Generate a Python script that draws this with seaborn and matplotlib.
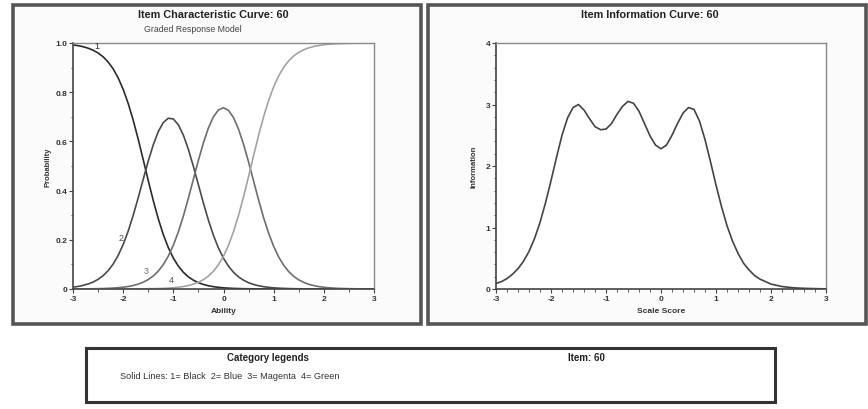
import matplotlib
matplotlib.use("Agg")
import matplotlib.pyplot as plt
import seaborn as sns
import pandas as pd
from matplotlib.patches import Rectangle
from matplotlib.ticker import MultipleLocator

# ---- data ----
theta = [-3.0, -2.9, -2.8, -2.7, -2.6, -2.5, -2.4, -2.3, -2.2, -2.1,
         -2.0, -1.9, -1.8, -1.7, -1.6, -1.5, -1.4, -1.3, -1.2, -1.1,
         -1.0, -0.9, -0.8, -0.7, -0.6, -0.5, -0.4, -0.3, -0.2, -0.1,
         0.0, 0.1, 0.2, 0.3, 0.4, 0.5, 0.6, 0.7, 0.8, 0.9,
         1.0, 1.1, 1.2, 1.3, 1.4, 1.5, 1.6, 1.7, 1.8, 1.9,
         2.0, 2.1, 2.2, 2.3, 2.4, 2.5, 2.6, 2.7, 2.8, 2.9, 3.0]
cat1 = [0.9923, 0.9893, 0.9850, 0.9790, 0.9708, 0.9594, 0.9439, 0.9229, 0.8950, 0.8584,
        0.8117, 0.7544, 0.6861, 0.6087, 0.5255, 0.4408, 0.3594, 0.2854, 0.2213, 0.1683,
        0.1259, 0.0930, 0.0680, 0.0493, 0.0357, 0.0256, 0.0184, 0.0132, 0.0094, 0.0067,
        0.0048, 0.0034, 0.0024, 0.0017, 0.0012, 0.0009, 0.0006, 0.0005, 0.0003, 0.0002,
        0.0002, 0.0001, 0.0001, 0.0001, 0.0001, 0.0, 0.0, 0.0, 0.0, 0.0,
        0.0, 0.0, 0.0, 0.0, 0.0, 0.0, 0.0, 0.0, 0.0, 0.0, 0.0]
cat2 = [0.0075, 0.0104, 0.0145, 0.0203, 0.0282, 0.0392, 0.0542, 0.0744, 0.1012, 0.1363,
        0.1809, 0.2352, 0.2994, 0.3710, 0.4462, 0.5199, 0.5862, 0.6399, 0.6768, 0.6942,
        0.6911, 0.6676, 0.6254, 0.5676, 0.4983, 0.4236, 0.3489, 0.2791, 0.2178, 0.1664,
        0.1249, 0.0924, 0.0678, 0.0493, 0.0356, 0.0256, 0.0184, 0.0132, 0.0094, 0.0067,
        0.0047, 0.0034, 0.0024, 0.0017, 0.0012, 0.0009, 0.0006, 0.0005, 0.0003, 0.0002,
        0.0002, 0.0001, 0.0001, 0.0001, 0.0, 0.0, 0.0, 0.0, 0.0, 0.0, 0.0]
cat3 = [0.0003, 0.0003, 0.0005, 0.0007, 0.0010, 0.0014, 0.0019, 0.0026, 0.0037, 0.0052,
        0.0072, 0.0101, 0.0142, 0.0198, 0.0276, 0.0384, 0.0531, 0.0728, 0.0993, 0.1339,
        0.1779, 0.2322, 0.2966, 0.3690, 0.4464, 0.5234, 0.5947, 0.6551, 0.7004, 0.7280,
        0.7368, 0.7262, 0.6965, 0.6496, 0.5880, 0.5159, 0.4386, 0.3616, 0.2897, 0.2264,
        0.1731, 0.1300, 0.0964, 0.0706, 0.0514, 0.0372, 0.0268, 0.0191, 0.0138, 0.0098,
        0.0070, 0.0050, 0.0035, 0.0025, 0.0018, 0.0013, 0.0009, 0.0007, 0.0005, 0.0003, 0.0002]
cat4 = [0.0, 0.0, 0.0, 0.0, 0.0, 0.0, 0.0, 0.0001, 0.0001, 0.0001,
        0.0002, 0.0002, 0.0003, 0.0005, 0.0007, 0.0009, 0.0013, 0.0019, 0.0026, 0.0037,
        0.0051, 0.0072, 0.0100, 0.0141, 0.0196, 0.0274, 0.0380, 0.0526, 0.0724, 0.0989,
        0.1335, 0.1780, 0.2333, 0.2994, 0.3752, 0.4576, 0.5424, 0.6248, 0.7006, 0.7667,
        0.8220, 0.8665, 0.9011, 0.9276, 0.9473, 0.9619, 0.9726, 0.9804, 0.9859, 0.9900,
        0.9928, 0.9949, 0.9964, 0.9974, 0.9981, 0.9987, 0.9991, 0.9993, 0.9995, 0.9997, 0.9998]
categories = ["1", "2", "3", "4"]

info = [0.09, 0.12, 0.17, 0.24, 0.33, 0.45, 0.61, 0.82, 1.08, 1.40,
        1.76, 2.14, 2.50, 2.78, 2.95, 3.00, 2.91, 2.77, 2.64, 2.59,
        2.60, 2.69, 2.84, 2.97, 3.05, 3.02, 2.89, 2.69, 2.49, 2.34,
        2.28, 2.34, 2.50, 2.69, 2.86, 2.95, 2.92, 2.73, 2.43, 2.07,
        1.69, 1.34, 1.03, 0.78, 0.58, 0.42, 0.31, 0.22, 0.16, 0.12,
        0.08, 0.06, 0.04, 0.03, 0.02, 0.015, 0.011, 0.008, 0.006, 0.004, 0.003]

icc = pd.DataFrame({
    "theta": theta * 4,
    "prob": cat1 + cat2 + cat3 + cat4,
    "category": sum([[c] * len(theta) for c in categories], []),
})
iic = pd.DataFrame({"theta": theta, "info": info})

sns.set_style("white")
plt.rcParams["font.family"] = ["Liberation Sans", "DejaVu Sans"]
plt.rcParams["axes.unicode_minus"] = False

W, H = 868, 410
fig = plt.figure(figsize=(W / 100, H / 100), dpi=100)
fig.patch.set_facecolor("white")


def px_box(x0, y0, x1, y1):
    return [x0 / W, 1 - y1 / H, (x1 - x0) / W, (y1 - y0) / H]


# panel frames (drawn beneath the axes)
for x0, x1 in [(13, 421), (428, 866)]:
    b = px_box(x0, 6, x1, 325)
    fig.patches.append(Rectangle((b[0], b[1]), b[2], b[3], transform=fig.transFigure,
                                 facecolor="#fbfbfb", edgecolor="#555555", lw=2.6, zorder=-5))
b = px_box(86, 349, 775, 403)
fig.patches.append(Rectangle((b[0], b[1]), b[2], b[3], transform=fig.transFigure,
                             facecolor="white", edgecolor="#333333", lw=2.2, zorder=-5))

ax1 = fig.add_axes(px_box(73, 44, 374, 290))
ax2 = fig.add_axes(px_box(496, 44, 826, 290))
ax1.set_zorder(2)
ax2.set_zorder(2)

sns.lineplot(data=icc, x="theta", y="prob", hue="category",
             palette=["#2b2b2b", "#4a4a4a", "#6e6e6e", "#a3a3a3"],
             legend=False, lw=1.2, ax=ax1)
sns.lineplot(data=iic, x="theta", y="info", color="#444444", lw=1.2, ax=ax2)

for ax in (ax1, ax2):
    ax.set_facecolor("white")
    ax.set_xlim(-3, 3)
    ax.set_xticks([-3, -2, -1, 0, 1, 2, 3])
    for s in ("left", "bottom"):
        ax.spines[s].set_color("#444444")
        ax.spines[s].set_linewidth(1.2)
    for s in ("top", "right"):
        ax.spines[s].set_color("#8a8a8a")
        ax.spines[s].set_linewidth(1.0)
    ax.tick_params(which="major", direction="out", length=3, width=0.8,
                   color="#444444", labelsize=6, pad=1)
    ax.tick_params(which="minor", direction="out", length=1.8, width=0.6, color="#444444")
    ax.tick_params(top=False, right=False, left=True, bottom=True)
    ax.tick_params(which="minor", top=False, right=False, left=True, bottom=True)
    for lab in ax.get_xticklabels() + ax.get_yticklabels():
        lab.set_fontweight("bold")
        lab.set_color("#333333")

ax1.set_ylim(0, 1)
ax1.set_yticks([0, 0.2, 0.4, 0.6, 0.8, 1.0])
ax1.set_yticklabels(["0", "0.2", "0.4", "0.6", "0.8", "1.0"], fontweight="bold", color="#333333")
ax1.xaxis.set_minor_locator(MultipleLocator(0.5))
ax1.yaxis.set_minor_locator(MultipleLocator(0.1))
ax1.set_xlabel("Ability", fontsize=6, fontweight="bold", color="#333333", labelpad=4)
ax1.set_ylabel("Probability", fontsize=5.5, fontweight="bold", color="#333333", labelpad=3)

ax2.set_ylim(0, 4)
ax2.set_yticks([0, 1, 2, 3, 4])
ax2.set_yticklabels(["0", "1", "2", "3", "4"], fontweight="bold", color="#333333")
ax2.xaxis.set_minor_locator(MultipleLocator(0.2))
ax2.yaxis.set_minor_locator(MultipleLocator(0.2))
ax2.set_xlabel("Scale Score", fontsize=6, fontweight="bold", color="#333333", labelpad=4)
ax2.set_ylabel("Information", fontsize=5.5, fontweight="bold", color="#333333", labelpad=6)

# category labels on the curves
for lab, x, y, c in [("1", -2.53, 0.99, "#2b2b2b"), ("2", -2.04, 0.21, "#4a4a4a"),
                     ("3", -1.54, 0.075, "#6e6e6e"), ("4", -1.04, 0.037, "#555555")]:
    ax1.text(x, y, lab, fontsize=6.5, color=c, ha="center", va="center")

# titles and legend box text
fig.text(213 / W, 1 - 15 / H, "Item Characteristic Curve: 60", ha="center", va="center",
         fontsize=7.8, fontweight="bold", color="#222222")
fig.text(193 / W, 1 - 30 / H, "Graded Response Model", ha="center", va="center",
         fontsize=6.3, color="#444444")
fig.text(650 / W, 1 - 15 / H, "Item Information Curve: 60", ha="center", va="center",
         fontsize=7.8, fontweight="bold", color="#222222")
fig.text(268 / W, 1 - 358 / H, "Category legends", ha="center", va="center",
         fontsize=7, fontweight="bold", color="#222222")
fig.text(586 / W, 1 - 358 / H, "Item: 60", ha="center", va="center",
         fontsize=7, fontweight="bold", color="#222222")
fig.text(120 / W, 1 - 377 / H, "Solid Lines: 1= Black  2= Blue  3= Magenta  4= Green",
         ha="left", va="center", fontsize=6.6, color="#333333")

fig.savefig("out.png", dpi=100)
